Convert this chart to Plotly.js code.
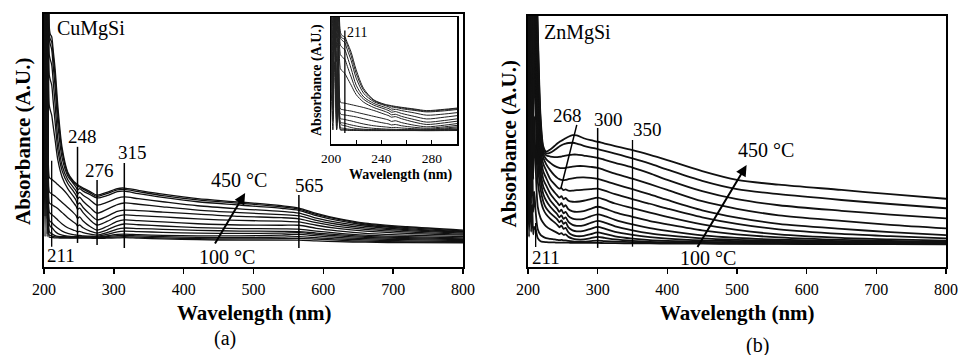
<!DOCTYPE html>
<html>
<head>
<meta charset="utf-8">
<script src="https://cdn.plot.ly/plotly-3.0.1.min.js"></script>
<style>
  html, body { margin: 0; padding: 0; background: #fff; }
  #chart { width: 962px; height: 355px; }
</style>
</head>
<body>
<div id="chart"></div>
<script>
// UV-Vis absorbance spectra recorded after heating from 100 °C to 450 °C (25 °C steps)
const temperatures = [100, 125, 150, 175, 200, 225, 250, 275, 300, 325, 350, 375, 400, 425, 450];

// ---- CuMgSi ----
const wavelengthCu = [200, 201.5, 203, 204.5, 206, 207.5, 209, 211, 213, 216, 220, 226, 234, 242, 246, 248, 251, 256, 266, 276, 290, 305, 315, 335, 370, 420, 480, 540, 565, 590, 620, 660, 720, 800];
const cu100 = [55, 12, 70, 12, 30, 11.8, 11.7, 11.7, 11.6, 11.5, 11.5, 11.4, 11.4, 11.4, 11.4, 11.4, 11.4, 11.4, 11.4, 11.3, 11.4, 11.5, 11.6, 11.4, 11.1, 10.8, 10.6, 10.6, 10.6, 10.3, 10, 9.8, 9.6, 9.5];
const cu125 = [80, 20, 110, 13, 45, 12.6, 12.5, 12.3, 12.1, 11.9, 11.8, 11.7, 11.7, 11.6, 11.6, 11.6, 11.6, 11.6, 11.6, 11.6, 11.7, 11.9, 12, 11.8, 11.5, 11.2, 11.1, 11.2, 11.3, 11, 10.6, 10.2, 9.9, 9.7];
const cu150 = [110, 30, 120, 20, 60, 14, 13.5, 13.2, 12.8, 12.4, 12.1, 12, 11.9, 11.8, 11.8, 11.8, 11.8, 11.8, 11.7, 11.7, 12, 12.4, 12.5, 12.3, 12, 11.7, 11.6, 11.8, 12, 11.6, 11.1, 10.7, 10.3, 10];
const cu175 = [90, 40, 130, 25, 75, 17, 16, 15.6, 15, 14, 13.2, 12.6, 12.2, 12, 12, 12, 11.9, 11.9, 11.9, 11.8, 12.3, 12.9, 13, 12.8, 12.5, 12.3, 12.3, 12.6, 12.9, 12.3, 11.7, 11.2, 10.8, 10.4];
const cu200 = [120, 35, 100, 19, 50, 18.4, 18, 17.6, 17, 16.2, 15.3, 14.2, 13.3, 12.8, 12.6, 12.5, 12.5, 12.3, 12.2, 12.1, 12.9, 13.9, 14.2, 14, 13.7, 13.4, 13.3, 13.4, 13.6, 12.9, 12.3, 11.7, 11.2, 10.8];
const cu225 = [100, 45, 130, 23, 80, 21.6, 21.2, 20.8, 20.3, 19.6, 18.5, 17, 15.5, 14.6, 14.2, 13.9, 14.1, 13.6, 13, 12.6, 13.6, 15, 15.4, 15.2, 14.9, 14.5, 14.2, 14.1, 14, 13.4, 12.8, 12.1, 11.6, 11.1];
const cu250 = [130, 50, 110, 27, 65, 25.5, 25, 24.7, 24.3, 23.8, 23, 21.5, 19.5, 17.8, 17, 16.2, 16.6, 15.5, 14.2, 13.4, 14.6, 16.4, 17, 16.7, 16.2, 15.6, 15.2, 15.1, 15, 14.2, 13.4, 12.6, 12, 11.5];
const cu275 = [110, 60, 130, 32, 90, 29.8, 29.3, 28.9, 28.5, 28, 27, 25.5, 23.5, 21.5, 20.3, 19.2, 19.8, 18.2, 16, 14.6, 16, 18, 18.6, 18.3, 17.8, 17.1, 16.6, 16.5, 16.5, 15.3, 14.3, 13.3, 12.6, 12];
const cu300 = [130, 70, 120, 40, 100, 35.5, 35, 34.7, 34.2, 33.5, 32.5, 31, 28.5, 25.5, 24, 22.8, 23.3, 21.5, 18.6, 16.6, 18, 20, 20.6, 20.3, 19.8, 19, 18.4, 18.1, 17.8, 16.5, 15.3, 14.2, 13.3, 12.6];
const cu325 = [140, 80, 130, 70, 110, 64, 62, 60, 56, 50, 42, 35.5, 31, 28, 26.3, 24.8, 25.3, 23.5, 20.8, 18.6, 20, 22, 22.5, 22.3, 21.7, 20.9, 20, 19.5, 19, 17.5, 16.1, 14.9, 13.9, 13];
const cu350 = [140, 90, 140, 82, 120, 76, 74, 72, 66, 57, 46, 38, 33, 30, 28.3, 27, 27.6, 26, 23.5, 21.3, 22.8, 24.7, 25.3, 24.8, 23.8, 22.5, 21.5, 20.7, 20.2, 18.4, 16.9, 15.5, 14.4, 13.4];
const cu375 = [140, 100, 140, 90, 130, 84, 82, 80, 74, 64, 50, 40, 34.5, 31.5, 30, 28.8, 29.5, 28.4, 26.5, 24.5, 25.5, 27.2, 27.7, 27, 25.8, 24.2, 23, 22, 21.3, 19.3, 17.6, 16.1, 14.8, 13.8];
const cu400 = [140, 110, 140, 96, 130, 90, 88, 86, 80, 71, 56, 43, 36, 33, 31.5, 30.5, 31, 30, 28.6, 27.3, 28.2, 29.8, 30, 29, 27.5, 25.8, 24.5, 23.2, 22.4, 20.3, 18.4, 16.6, 15.2, 14];
const cu425 = [140, 120, 140, 100, 135, 92, 90, 89, 84, 75, 60, 45.5, 37, 33.6, 32.5, 32, 31.6, 30.8, 29.3, 27.9, 29, 30.5, 30.7, 29.8, 28.2, 26.5, 25.2, 23.8, 22.9, 20.8, 18.9, 17, 15.6, 14.3];
const cu450 = [140, 125, 140, 105, 140, 95, 92, 91, 86, 78, 63, 47, 37.5, 34, 33, 32.6, 32, 31.2, 29.8, 28.4, 29.5, 31, 31.2, 30.3, 28.8, 27, 25.7, 24.2, 23.3, 21.2, 19.2, 17.3, 15.9, 14.6];
const cuSeries = [cu100, cu125, cu150, cu175, cu200, cu225, cu250, cu275, cu300, cu325, cu350, cu375, cu400, cu425, cu450];
const cuBands = [211, 248, 276, 315, 565];

// ---- ZnMgSi ----
const wavelengthZn = [200, 201.5, 203, 204.5, 206, 207.5, 209, 211, 214, 218, 222, 226, 232, 238, 242, 245, 248, 251, 254, 258, 264, 270, 280, 290, 300, 310, 325, 350, 375, 400, 450, 500, 560, 650, 720, 800];
const zn100 = [35, 12, 40, 14, 25, 13, 16, 15, 11.5, 10.3, 10, 9.9, 9.8, 9.8, 9.7, 9.7, 9.7, 9.7, 9.7, 9.7, 9.6, 9.6, 9.6, 9.6, 9.6, 9.5, 9.5, 9.4, 9.4, 9.3, 9.3, 9.2, 9.2, 9.1, 9.1, 9.0];
const zn125 = [60, 20, 70, 25, 50, 22, 30, 22, 15, 12.8, 12, 11.5, 11.2, 11, 10.8, 10.7, 10.8, 10.6, 10.6, 10.4, 10.2, 10.1, 10.1, 10.3, 10.5, 10.3, 10.1, 9.9, 9.7, 9.6, 9.5, 9.4, 9.3, 9.2, 9.2, 9.1];
const zn150 = [90, 30, 110, 40, 80, 35, 60, 40, 24, 19.5, 17.5, 16.2, 15, 14.2, 13.6, 13.1, 13.5, 12.8, 13, 12, 11.3, 11, 11, 11.5, 12, 11.6, 11, 10.4, 10, 9.9, 9.7, 9.6, 9.5, 9.4, 9.3, 9.3];
const zn175 = [115, 40, 130, 60, 110, 50, 90, 64, 34, 27, 23, 21, 19.2, 17.8, 16.8, 15.8, 16.5, 15.2, 15.6, 13.8, 12.7, 12.3, 12.4, 13.1, 13.8, 13.2, 12.2, 11.3, 10.7, 10.4, 10, 9.9, 9.7, 9.5, 9.4, 9.4];
const zn200 = [125, 50, 140, 70, 130, 65, 105, 78, 42, 31, 26, 23.5, 21.5, 20, 19, 17.8, 18.6, 17.2, 17.8, 15.8, 14.6, 14.2, 14.4, 15.2, 16, 15.3, 14, 12.8, 11.9, 11.3, 10.6, 10.3, 10, 9.7, 9.6, 9.5];
const zn225 = [130, 60, 140, 80, 135, 75, 115, 86, 48, 35, 29, 26.5, 24, 22.2, 21, 19.8, 20.6, 19.2, 19.8, 18, 16.8, 16.4, 16.6, 17.6, 18.4, 17.7, 16.2, 14.6, 13.4, 12.6, 11.4, 10.8, 10.4, 10, 9.8, 9.6];
const zn250 = [135, 70, 140, 90, 140, 85, 125, 94, 54, 38, 32, 29.5, 26.5, 24.5, 23.2, 22, 22.8, 21.4, 22, 20.3, 19.3, 19, 19.2, 20.2, 21, 20.3, 18.8, 17, 15.5, 14.4, 12.6, 11.6, 10.9, 10.3, 10, 9.8];
const zn275 = [140, 80, 140, 100, 140, 95, 130, 100, 60, 42, 35, 32.5, 29.2, 27, 25.7, 24.6, 25.4, 24, 24.6, 23, 22.2, 22, 22.3, 23.2, 24, 23.3, 21.8, 20, 18.3, 17, 14.6, 13, 11.8, 10.8, 10.4, 10];
const zn300 = [140, 90, 140, 110, 140, 105, 135, 106, 66, 45, 38, 35.5, 32, 29.8, 28.5, 27.6, 28.2, 27, 27.5, 26.4, 26, 26, 26.4, 27, 27.6, 26.8, 25.3, 23.5, 21.7, 20, 17, 14.8, 13, 11.6, 11, 10.5];
const zn325 = [140, 95, 140, 115, 140, 110, 140, 112, 72, 48, 41, 38.5, 35, 33, 31.8, 31.2, 31.4, 30.6, 30.9, 30.4, 30.4, 30.6, 30.8, 31, 31.2, 30.4, 29, 27, 25.2, 23.3, 19.8, 17.2, 15, 13.2, 12.3, 11.4];
const zn350 = [140, 100, 140, 120, 140, 115, 140, 118, 80, 52, 43.5, 41, 38.5, 36.5, 35.5, 35, 34.7, 34.6, 34.7, 35, 35.3, 35.6, 35.7, 35.5, 35.1, 34.3, 33, 31, 28.9, 26.7, 22.6, 19.7, 17.2, 15.2, 13.9, 12.7];
const zn375 = [140, 105, 140, 125, 140, 120, 140, 122, 84, 54, 45, 43, 41.5, 40.3, 39.8, 39.5, 39.4, 39.4, 39.5, 39.7, 40, 40.2, 40.2, 39.9, 39.5, 38.6, 37.2, 35.2, 33, 30.7, 26.2, 23.2, 20.6, 18.4, 16.8, 15.4];
const zn400 = [140, 110, 140, 130, 140, 125, 140, 125, 88, 56, 46, 44.5, 44, 43.8, 43.8, 43.9, 44, 44.2, 44.4, 44.6, 44.8, 44.8, 44.4, 44, 43.5, 42.7, 41.5, 39.6, 37.3, 34.7, 30.2, 27, 24.6, 22.4, 20.9, 19.4];
const zn425 = [140, 115, 140, 135, 140, 130, 140, 128, 92, 58, 47, 45.3, 45.6, 46.6, 47.4, 48, 48.5, 48.9, 49.2, 49.4, 49.5, 49.2, 48.3, 47.6, 47, 46.3, 45.2, 43.3, 41.2, 38.8, 34.3, 31, 29, 26.7, 25.1, 23.4];
const zn450 = [140, 120, 140, 140, 140, 135, 140, 130, 95, 60, 48, 46, 46.8, 48.2, 49.2, 49.8, 50.3, 50.8, 51.3, 51.9, 52.5, 52.4, 51.3, 50.5, 49.9, 49.2, 48.2, 46.6, 44.7, 42.6, 38.2, 34.7, 32.8, 30.7, 29, 27.2];
const znSeries = [zn100, zn125, zn150, zn175, zn200, zn225, zn250, zn275, zn300, zn325, zn350, zn375, zn400, zn425, zn450];
const znBands = [211, 268, 300, 350];

const xTicks = [200, 300, 400, 500, 600, 700, 800];
const insetTicks = [200, 220, 240, 260, 280, 300];
const insetTickText = ['200', '', '240', '', '280', ''];

// ---- drawing ----
const FONT = 'Liberation Serif, Times New Roman, serif';
const W = 962, H = 355;
const fx = v => v / W;        // page pixel -> paper x
const fy = v => 1 - v / H;    // page pixel -> paper y

const traces = [];
cuSeries.forEach((ys, i) => {
  traces.push({ x: wavelengthCu, y: ys, xaxis: 'x', yaxis: 'y', type: 'scatter', mode: 'lines',
    name: 'CuMgSi ' + temperatures[i] + ' °C', line: { color: '#111', width: 1.3, shape: 'spline', smoothing: 0.8 }, hoverinfo: 'skip' });
});
znSeries.forEach((ys, i) => {
  traces.push({ x: wavelengthZn, y: ys, xaxis: 'x2', yaxis: 'y2', type: 'scatter', mode: 'lines',
    name: 'ZnMgSi ' + temperatures[i] + ' °C', line: { color: '#111', width: 1.8, shape: 'spline', smoothing: 0.8 }, hoverinfo: 'skip' });
});
cuSeries.forEach((ys, i) => {
  traces.push({ x: wavelengthCu, y: ys, xaxis: 'x3', yaxis: 'y3', type: 'scatter', mode: 'lines',
    name: 'CuMgSi inset ' + temperatures[i] + ' °C', line: { color: '#222', width: 1, shape: 'spline', smoothing: 0.8 }, hoverinfo: 'skip' });
});

const frame = { showline: true, mirror: true, linewidth: 2, linecolor: '#000', showgrid: false, zeroline: false };
const bottomAxis = Object.assign({}, frame, {
  range: [200, 800], tickvals: xTicks, ticks: 'outside', ticklen: 5, tickwidth: 1.5, tickcolor: '#000',
  tickfont: { family: FONT, size: 16, color: '#000' }, ticklabelstandoff: 2
});
const sideAxis = Object.assign({}, frame, { range: [0, 100], ticks: '', showticklabels: false });

// band markers: vertical guide lines at the labelled wavelengths
const vline = (xr, yr, x, y0, y1, w) => ({ type: 'line', xref: xr, yref: yr, x0: x, x1: x, y0: y0, y1: y1, line: { color: '#000', width: w } });
const shapes = [
  vline('x', 'y', cuBands[0], 8, 42, 1.3),
  vline('x', 'y', cuBands[1], 9.5, 47.5, 1.5),
  vline('x', 'y', cuBands[2], 8.7, 34.4, 1.5),
  vline('x', 'y', cuBands[3], 7.5, 41.1, 1.5),
  vline('x', 'y', cuBands[4], 7.5, 28.5, 1.5),
  vline('x2', 'y2', znBands[0], 8, 17.5, 1.3),
  vline('x2', 'y2', znBands[2], 7.6, 55.4, 1.5),
  vline('x2', 'y2', znBands[3], 8.1, 50.6, 1.3),
  { type: 'line', xref: 'x2', yref: 'y2', x0: 270, y0: 56.6, x1: 247.3, y1: 31.4, line: { color: '#000', width: 1.5 } },
  vline('x3', 'y3', cuBands[0], 9.3, 96.6, 1.3)
];

const txt = (s, x, y, size, opts) => Object.assign({
  text: s, xref: 'paper', yref: 'paper', x: fx(x), y: fy(y), xanchor: 'center', yanchor: 'middle',
  showarrow: false, font: { family: FONT, size: size, color: '#000' }
}, opts || {});

const annotations = [
  // CuMgSi panel
  txt('CuMgSi', 55, 28, 20, { xanchor: 'left' }),
  txt(String(cuBands[1]), 82, 137, 19),
  txt(String(cuBands[2]), 99, 170, 19),
  txt(String(cuBands[3]), 132.5, 152, 19),
  txt(String(cuBands[4]), 309, 185, 19),
  txt(String(cuBands[0]), 61, 255, 19),
  txt('450 °C', 239, 180, 20),
  txt('100 °C', 227, 257, 20),
  txt('<b>Wavelength (nm)</b>', 254.5, 313, 21),
  txt('<b>Absorbance (A.U.)</b>', 23, 142, 21, { textangle: -90 }),
  txt('(a)', 225, 338, 20),
  { xref: 'x', yref: 'y', axref: 'x', ayref: 'y', x: 488, y: 29.2, ax: 443.6, ay: 8.7, text: '',
    showarrow: true, arrowhead: 2, arrowsize: 1.1, arrowwidth: 2, arrowcolor: '#000' },
  // inset
  txt(String(cuBands[0]), 357, 33, 14),
  txt('<b>Wavelength (nm)</b>', 400, 175, 14),
  txt('<b>Absorbance (A.U.)</b>', 317, 80, 14, { textangle: -90 }),
  // ZnMgSi panel
  txt('ZnMgSi', 542, 33, 20, { xanchor: 'left' }),
  txt(String(znBands[1]), 567, 115, 19),
  txt(String(znBands[2]), 608, 119, 19),
  txt(String(znBands[3]), 647, 129, 19),
  txt(String(znBands[0]), 546, 257, 19),
  txt('450 °C', 766, 150, 20),
  txt('100 °C', 708, 258, 20),
  txt('<b>Wavelength (nm)</b>', 737, 313, 21),
  txt('<b>Absorbance (A.U.)</b>', 508.5, 144, 21, { textangle: -90 }),
  txt('(b)', 757, 345, 20),
  { xref: 'x2', yref: 'y2', axref: 'x2', ayref: 'y2', x: 513.8, y: 40.6, ax: 442, ay: 7.4, text: '',
    showarrow: true, arrowhead: 2, arrowsize: 1.1, arrowwidth: 2, arrowcolor: '#000' }
];

const layout = {
  width: W, height: H,
  margin: { l: 0, r: 0, t: 0, b: 0 },
  paper_bgcolor: '#fff', plot_bgcolor: '#fff',
  showlegend: false,
  font: { family: FONT, color: '#000' },
  xaxis: Object.assign({}, bottomAxis, { domain: [fx(44), fx(463)], anchor: 'y' }),
  yaxis: Object.assign({}, sideAxis, { domain: [fy(267), fy(14)], anchor: 'x' }),
  xaxis2: Object.assign({}, bottomAxis, { domain: [fx(528), fx(946)], anchor: 'y2' }),
  yaxis2: Object.assign({}, sideAxis, { domain: [fy(267), fy(16)], anchor: 'x2' }),
  xaxis3: Object.assign({}, frame, {
    domain: [fx(331), fx(457)], anchor: 'y3', range: [200, 300], linewidth: 1.5,
    tickvals: insetTicks, ticktext: insetTickText, ticks: 'inside', ticklen: 4, tickwidth: 1, tickcolor: '#000',
    tickfont: { family: FONT, size: 13.5, color: '#000' }, ticklabelstandoff: 1
  }),
  yaxis3: Object.assign({}, frame, { domain: [fy(144), fy(17)], anchor: 'x3', range: [0, 108], linewidth: 1.5, ticks: '', showticklabels: false }),
  shapes: shapes,
  annotations: annotations
};

Plotly.newPlot('chart', traces, layout, { staticPlot: true, displayModeBar: false });
</script>
</body>
</html>
